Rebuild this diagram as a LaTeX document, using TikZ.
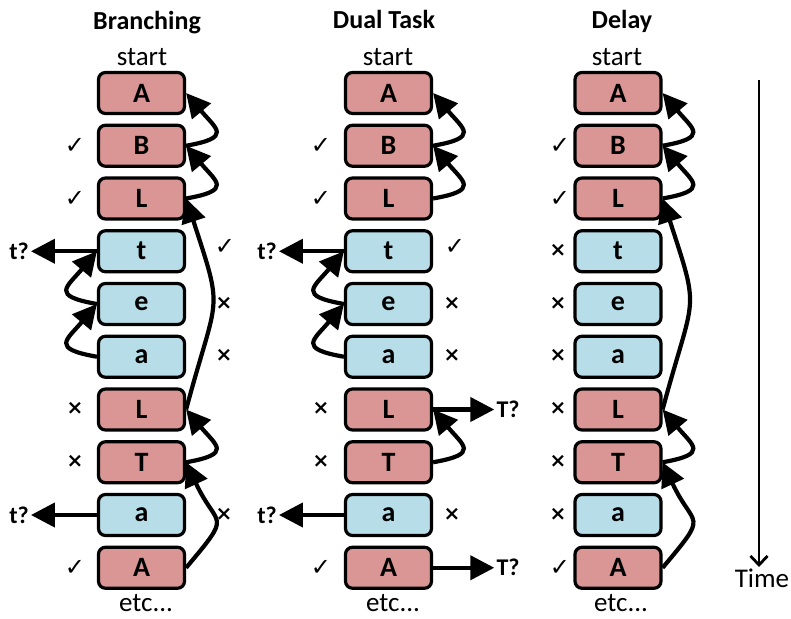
\documentclass[tikz,border=0pt]{standalone}
\usepackage{fontspec}
\setmainfont{Carlito}
\newfontfamily\symfont{DejaVu Sans}
\usetikzlibrary{arrows.meta}
\definecolor{redfill}{HTML}{D99694}
\definecolor{bluefill}{HTML}{B7DEE8}
\tikzset{
  box/.style={draw=black, line width=3.2pt, rounded corners=7pt,
    minimum width=86pt, minimum height=41pt, inner sep=0pt,
    font=\fontsize{28}{32}\selectfont\bfseries},
  redbox/.style={box, fill=redfill},
  bluebox/.style={box, fill=bluefill},
  arr/.style={line width=4.2pt, -{Triangle[length=24pt,width=24pt]}},
  okmark/.style={font=\symfont\fontsize{24}{26}\selectfont, inner sep=0pt},
  nomark/.style={font=\symfont\bfseries\fontsize{20}{22}\selectfont, inner sep=0pt},
  title/.style={font=\fontsize{26}{30}\selectfont\bfseries, anchor=base},
  plain/.style={font=\fontsize{27}{30}\selectfont, anchor=base, inner sep=1pt},
  qlbl/.style={font=\fontsize{24}{28}\selectfont\bfseries, inner sep=2pt},
}
\begin{document}
\begin{tikzpicture}[x=1pt,y=1pt]
\useasboundingbox (0,0) rectangle (791,-618);

% three columns of letter boxes: b = Branching, d = Dual Task, y = Delay
\foreach \col/\cx in {b/141.5, d/388.5, y/618} {
  \foreach \lab/\sty [count=\i] in {A/redbox, B/redbox, L/redbox, t/bluebox, e/bluebox,
                                    a/bluebox, L/redbox, T/redbox, a/bluebox, A/redbox} {
    \node[\sty] (\col\i) at (\cx, {-93-52.75*(\i-1)}) {\lab};
  }
}

% headings, start and etc.
\node[title] (tb) at (147,-30) {Branching};
\node[title] (td) at (384,-29) {Dual Task};
\node[title] (ty) at (622,-29) {Delay};
\node[plain] (sb) at (142,-65) {start};
\node[plain] (sd) at (388,-65) {start};
\node[plain] (sy) at (617,-65) {start};
\node[plain] (eb) at (146,-611) {etc...};
\node[plain] (ed) at (393,-611) {etc...};
\node[plain] (ey) at (621,-611) {etc...};

% ticks and crosses
\foreach \col/\x/\i in {b/75/2, b/75/3, b/75/10, d/321/2, d/321/3, d/321/10,
                        y/560/2, y/560/3, y/560/10} {
  \node[okmark] (ok-\col\i) at (\x, {-93-52.75*(\i-1)}) {✓};
}
\foreach \col/\x/\i in {b/225/4, d/455/4} {
  \node[okmark] (okr-\col\i) at (\x, {-93-52.75*(\i-1)+4}) {✓};
}
\foreach \col/\x/\i in {b/75/7, b/75/8, d/321/7, d/321/8,
                        y/558/4, y/558/5, y/558/6, y/558/7, y/558/8, y/558/9} {
  \node[nomark] (no-\col\i) at (\x, {-93-52.75*(\i-1)+1}) {×};
}
\foreach \col/\x/\i in {b/224/5, b/224/6, b/224/9, d/452/5, d/452/6, d/452/9} {
  \node[nomark] (nor-\col\i) at (\x, {-93-52.75*(\i-1)+1}) {×};
}

% question labels
\node[qlbl] (qb4) at (19,-251.25) {t?};
\node[qlbl] (qb9) at (19,-515) {t?};
\node[qlbl] (qd4) at (267,-251.25) {t?};
\node[qlbl] (qd9) at (267,-515) {t?};
\node[qlbl] (qd7) at (508,-409.5) {T?};
\node[qlbl] (qd10) at (508,-567.75) {T?};

% Branching
\draw[arr] (b2.east) to[out=10,in=-50,looseness=2.3] (b1.east);
\draw[arr] (b3.east) to[out=10,in=-50,looseness=2.3] (b2.east);
\draw[arr] (b7.east) to[out=75,in=-72,looseness=1.5] (b3.east);
\draw[arr] (b8.east) to[out=10,in=-50,looseness=2.3] (b7.east);
\draw[arr] (b10.east) to[out=50,in=-65,looseness=1.8] (b8.east);
\draw[arr] (b5.west) to[out=170,in=-130,looseness=2.3] (b4.west);
\draw[arr] (b6.west) to[out=170,in=-130,looseness=2.3] (b5.west);
\draw[arr] (b4.west) -- (qb4);
\draw[arr] (b9.west) -- (qb9);

% Dual Task
\draw[arr] (d2.east) to[out=10,in=-50,looseness=2.3] (d1.east);
\draw[arr] (d3.east) to[out=10,in=-50,looseness=2.3] (d2.east);
\draw[arr] (d8.east) to[out=10,in=-50,looseness=2.3] (d7.east);
\draw[arr] (d5.west) to[out=170,in=-130,looseness=2.3] (d4.west);
\draw[arr] (d6.west) to[out=170,in=-130,looseness=2.3] (d5.west);
\draw[arr] (d4.west) -- (qd4);
\draw[arr] (d9.west) -- (qd9);
\draw[arr] (d7.east) -- (qd7);
\draw[arr] (d10.east) -- (qd10);

% Delay
\draw[arr] (y2.east) to[out=10,in=-50,looseness=2.3] (y1.east);
\draw[arr] (y3.east) to[out=10,in=-50,looseness=2.3] (y2.east);
\draw[arr] (y7.east) to[out=75,in=-72,looseness=1.5] (y3.east);
\draw[arr] (y8.east) to[out=10,in=-50,looseness=2.3] (y7.east);
\draw[arr] (y10.east) to[out=50,in=-65,looseness=1.8] (y8.east);

% time axis
\coordinate (t0) at (759,-80);
\node[plain] (tl) at (762,-587) {Time};
\draw[line width=2.8pt, -{Straight Barb[length=9pt,width=17pt]}] (t0) -- (759,-567);
\end{tikzpicture}
\end{document}
